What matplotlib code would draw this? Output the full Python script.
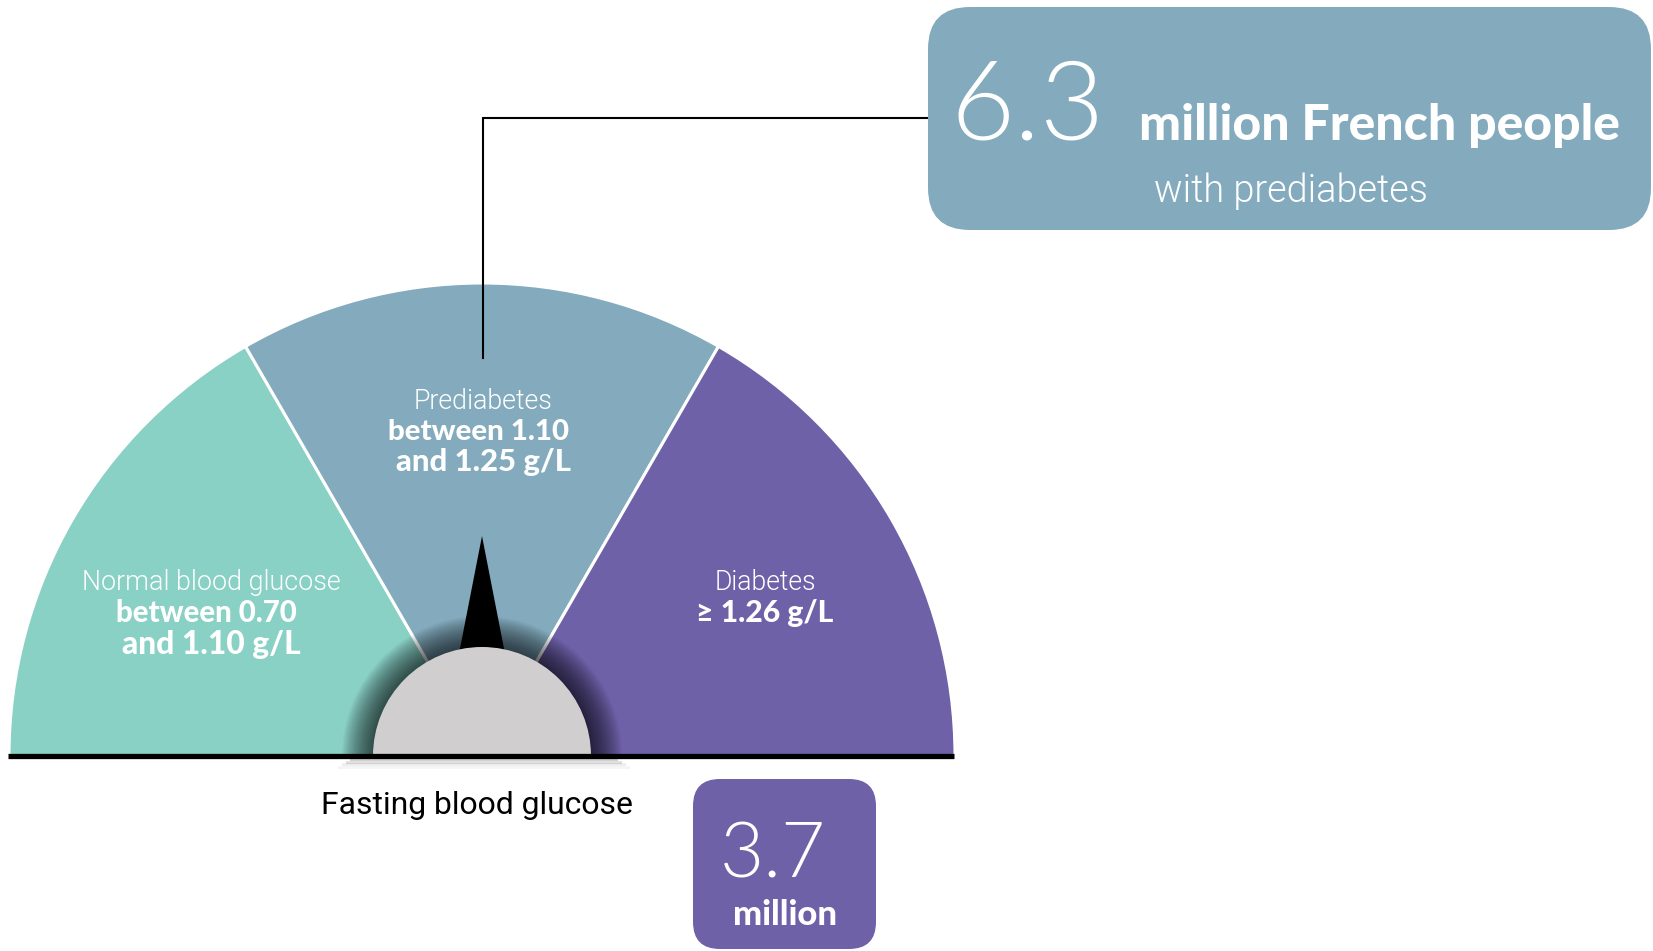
import matplotlib
matplotlib.use("Agg")
import matplotlib.pyplot as plt
from matplotlib.patches import Wedge, Polygon, FancyBboxPatch, Rectangle
import numpy as np

# ---------------- data ----------------
zones = ["Normal blood glucose", "Prediabetes", "Diabetes"]
zone_range_line1 = ["between 0.70", "between 1.10", "≥ 1.26 g/L"]
zone_range_line2 = ["and 1.10 g/L", "and 1.25 g/L", ""]
zone_spans = [60, 60, 60]          # angular share of the gauge (degrees)
zone_colors = ["#89d0c5", "#83abbd", "#6e61a8"]
needle_zone = 1                    # needle points at "Prediabetes"
prediabetes_millions = "6.3"
diabetes_millions = "3.7"
axis_title = "Fasting blood glucose"

# ---------------- figure in pixel coordinates ----------------
W, H = 1653, 951
fig = plt.figure(figsize=(W / 100, H / 100), dpi=100)
ax = fig.add_axes([0, 0, 1, 1])
ax.set_xlim(0, W)
ax.set_ylim(H, 0)
ax.set_aspect("equal")
ax.axis("off")

REG = ["Roboto", "DejaVu Sans"]
BOLD = ["Lato", "DejaVu Sans"]
THIN = ["Lato", "DejaVu Sans"]

renderer = fig.canvas.get_renderer()


def fit_text(x, y, s, target_w, **kw):
    t = ax.text(x, y, s, **kw)
    bb = t.get_window_extent(renderer)
    if bb.width > 0:
        t.set_fontsize(t.get_fontsize() * target_w / bb.width)
    return t


cx, cy, R = 482, 756, 473

# gauge segments (visual angle a -> data angle -a because y is inverted)
start = 180
for name, span, col in zip(zones, zone_spans, zone_colors):
    a1, a2 = start - span, start
    ax.add_patch(Wedge((cx, cy), R, -a2, -a1, facecolor=col,
                       edgecolor="white", linewidth=2.2, zorder=1))
    start -= span

# soft shadow around hub
for r in np.linspace(140, 110, 24):
    ax.add_patch(Wedge((cx, cy), r, -180, 0, facecolor="black",
                       edgecolor="none", alpha=0.035, zorder=2))

# needle
cum = sum(zone_spans[:needle_zone]) + zone_spans[needle_zone] / 2
ang = np.deg2rad(180 - cum)
L, hw = 220, 43
tip = (cx + L * np.cos(ang), cy - L * np.sin(ang))
px, py = np.sin(ang), np.cos(ang)
ax.add_patch(Polygon([tip, (cx + hw * px, cy + hw * py), (cx - hw * px, cy - hw * py)],
                     closed=True, facecolor="black", edgecolor="none", zorder=3))

# hub
ax.add_patch(Wedge((cx, cy), 109, -180, 0, facecolor="#d0cecf",
                   edgecolor="none", zorder=4))

# shadow under baseline
for i, a in enumerate([0.18, 0.12, 0.07, 0.04]):
    ax.add_patch(Rectangle((350 - i * 4, 758 + i * 2.5), 268 + i * 8, 3,
                           facecolor="black", edgecolor="none", alpha=a, zorder=4))

# baseline
ax.plot([8, 954], [756, 756], color="black", linewidth=3.8,
        solid_capstyle="butt", zorder=5)

# zone labels
lab = dict(color="white", ha="center", va="baseline", zorder=6)
# Normal
fit_text(211, 590, zones[0], 259, family=REG, fontweight=300, fontsize=19, **lab)
fit_text(206, 622, zone_range_line1[0], 182, family=BOLD, fontweight=900, fontsize=19, **lab)
fit_text(211, 654, zone_range_line2[0], 179, family=BOLD, fontweight=900, fontsize=19, **lab)
# Prediabetes
fit_text(483, 409, zones[1], 139, family=REG, fontweight=300, fontsize=19, **lab)
fit_text(479, 440, zone_range_line1[1], 181, family=BOLD, fontweight=900, fontsize=19, **lab)
fit_text(483, 471, zone_range_line2[1], 175, family=BOLD, fontweight=900, fontsize=19, **lab)
# Diabetes
fit_text(765, 590, zones[2], 102, family=REG, fontweight=300, fontsize=19, **lab)
fit_text(765, 622, zone_range_line1[2], 138, family=BOLD, fontweight=900, fontsize=19, **lab)

# axis title
fit_text(477, 814, axis_title, 312, family=REG, fontweight=400, fontsize=21,
         color="black", ha="center", va="baseline", zorder=6)

# connector
ax.plot([483, 483, 928], [358, 118, 118], color="black", linewidth=1.5,
        solid_joinstyle="miter", zorder=6)

# top callout box
ax.add_patch(FancyBboxPatch((928, 7), 723, 223,
                            boxstyle="round,pad=0,rounding_size=42",
                            facecolor=zone_colors[1], edgecolor="none", zorder=6))
fit_text(950, 140, prediabetes_millions, 154, family=THIN, fontweight=300,
         fontsize=80, color="white", ha="left", va="baseline", zorder=7)
fit_text(1139, 140, "million French people", 482, family=BOLD, fontweight=900,
         fontsize=32, color="white", ha="left", va="baseline", zorder=7)
fit_text(1154, 202, "with prediabetes", 274, family=REG, fontweight=300,
         fontsize=26, color="white", ha="left", va="baseline", zorder=7)

# bottom callout box
ax.add_patch(FancyBboxPatch((693, 779), 183, 170,
                            boxstyle="round,pad=0,rounding_size=27",
                            facecolor=zone_colors[2], edgecolor="none", zorder=6))
fit_text(720, 878, diabetes_millions, 106, family=THIN, fontweight=300,
         fontsize=60, color="white", ha="left", va="baseline", zorder=7)
fit_text(785, 925, "million", 105, family=BOLD, fontweight=900,
         fontsize=20, color="white", ha="center", va="baseline", zorder=7)

fig.savefig("out.png", dpi=100, facecolor="white")
